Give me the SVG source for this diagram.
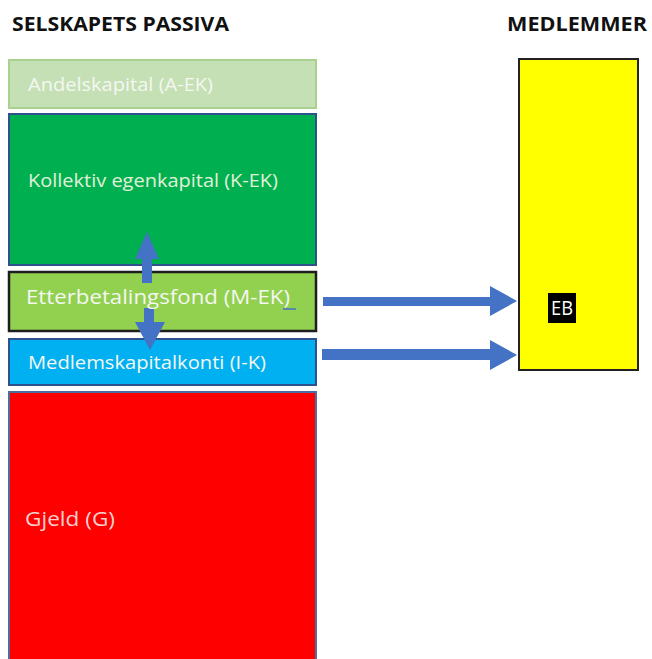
<svg xmlns="http://www.w3.org/2000/svg" width="652" height="659" viewBox="0 0 652 659">
<style>
.title{font-family:"Open Sans","Liberation Sans",sans-serif;font-weight:bold;font-size:19px;fill:#111}
.lbl{font-family:"Open Sans","Liberation Sans",sans-serif;font-size:19px;fill:#f4f7f2}
.arrow{fill:#4472c4}
</style>
<rect width="652" height="659" fill="#ffffff"/>
<text class="title" x="12" y="31" textLength="217" lengthAdjust="spacingAndGlyphs">SELSKAPETS PASSIVA</text>
<text class="title" x="507" y="31" textLength="140" lengthAdjust="spacingAndGlyphs">MEDLEMMER</text>
<g id="andelskapital">
<rect x="9" y="60" width="307" height="48" fill="#c5e0b4" stroke="#a9d18e" stroke-width="2"/>
<text class="lbl" x="28" y="91" textLength="185" lengthAdjust="spacingAndGlyphs">Andelskapital (A-EK)</text>
</g>
<g id="kollektiv">
<rect x="9" y="114" width="307" height="151" fill="#00b050" stroke="#2f528f" stroke-width="2"/>
<text class="lbl" x="28" y="187" textLength="250" lengthAdjust="spacingAndGlyphs" style="fill:#e2f0d9">Kollektiv egenkapital (K-EK)</text>
</g>
<g id="etterbetalingsfond">
<rect x="9" y="272" width="307" height="59" fill="#92d050" stroke="#1e1e1e" stroke-width="2.5"/>
</g>
<g id="medlemskapitalkonti">
<rect x="9" y="339" width="307" height="46" fill="#00b0f0" stroke="#2f528f" stroke-width="2"/>
<text class="lbl" x="28" y="369" textLength="238" lengthAdjust="spacingAndGlyphs">Medlemskapitalkonti (I-K)</text>
</g>
<g id="gjeld">
<rect x="9" y="392" width="307" height="272" fill="#ff0000" stroke="#4a6fa0" stroke-width="2"/>
<text class="lbl" x="25" y="526" textLength="90" lengthAdjust="spacingAndGlyphs" style="fill:#f8d0d0;font-size:20px">Gjeld (G)</text>
</g>
<g id="medlemmer">
<rect x="519" y="59" width="119" height="311" fill="#ffff00" stroke="#222" stroke-width="2"/>
<rect x="548" y="293" width="28" height="30" fill="#000"/>
<text x="562" y="315" text-anchor="middle" textLength="22" lengthAdjust="spacingAndGlyphs" style="font-family:'Open Sans','Liberation Sans',sans-serif;font-size:20px;fill:#fff">EB</text>
</g>
<g id="connectors">
<polygon class="arrow" points="142,283 142,259 135,259 147,232 159,259 152,259 152,283"/>
<polygon class="arrow" points="144,308 154,308 154,322 165,322 150,350 135,322 144,322"/>
<polygon class="arrow" points="323,297 490,297 490,286 517,301 490,316 490,306 323,306"/>
<polygon class="arrow" points="322,349 490,349 490,340 517,355 490,370 490,360 322,360"/>
</g>
<text class="lbl" x="26" y="304" textLength="264" lengthAdjust="spacingAndGlyphs" style="font-size:20px">Etterbetalingsfond (M-EK)</text>
<line x1="283" y1="309" x2="296" y2="309" stroke="#4472c4" stroke-width="1.5"/>
</svg>
